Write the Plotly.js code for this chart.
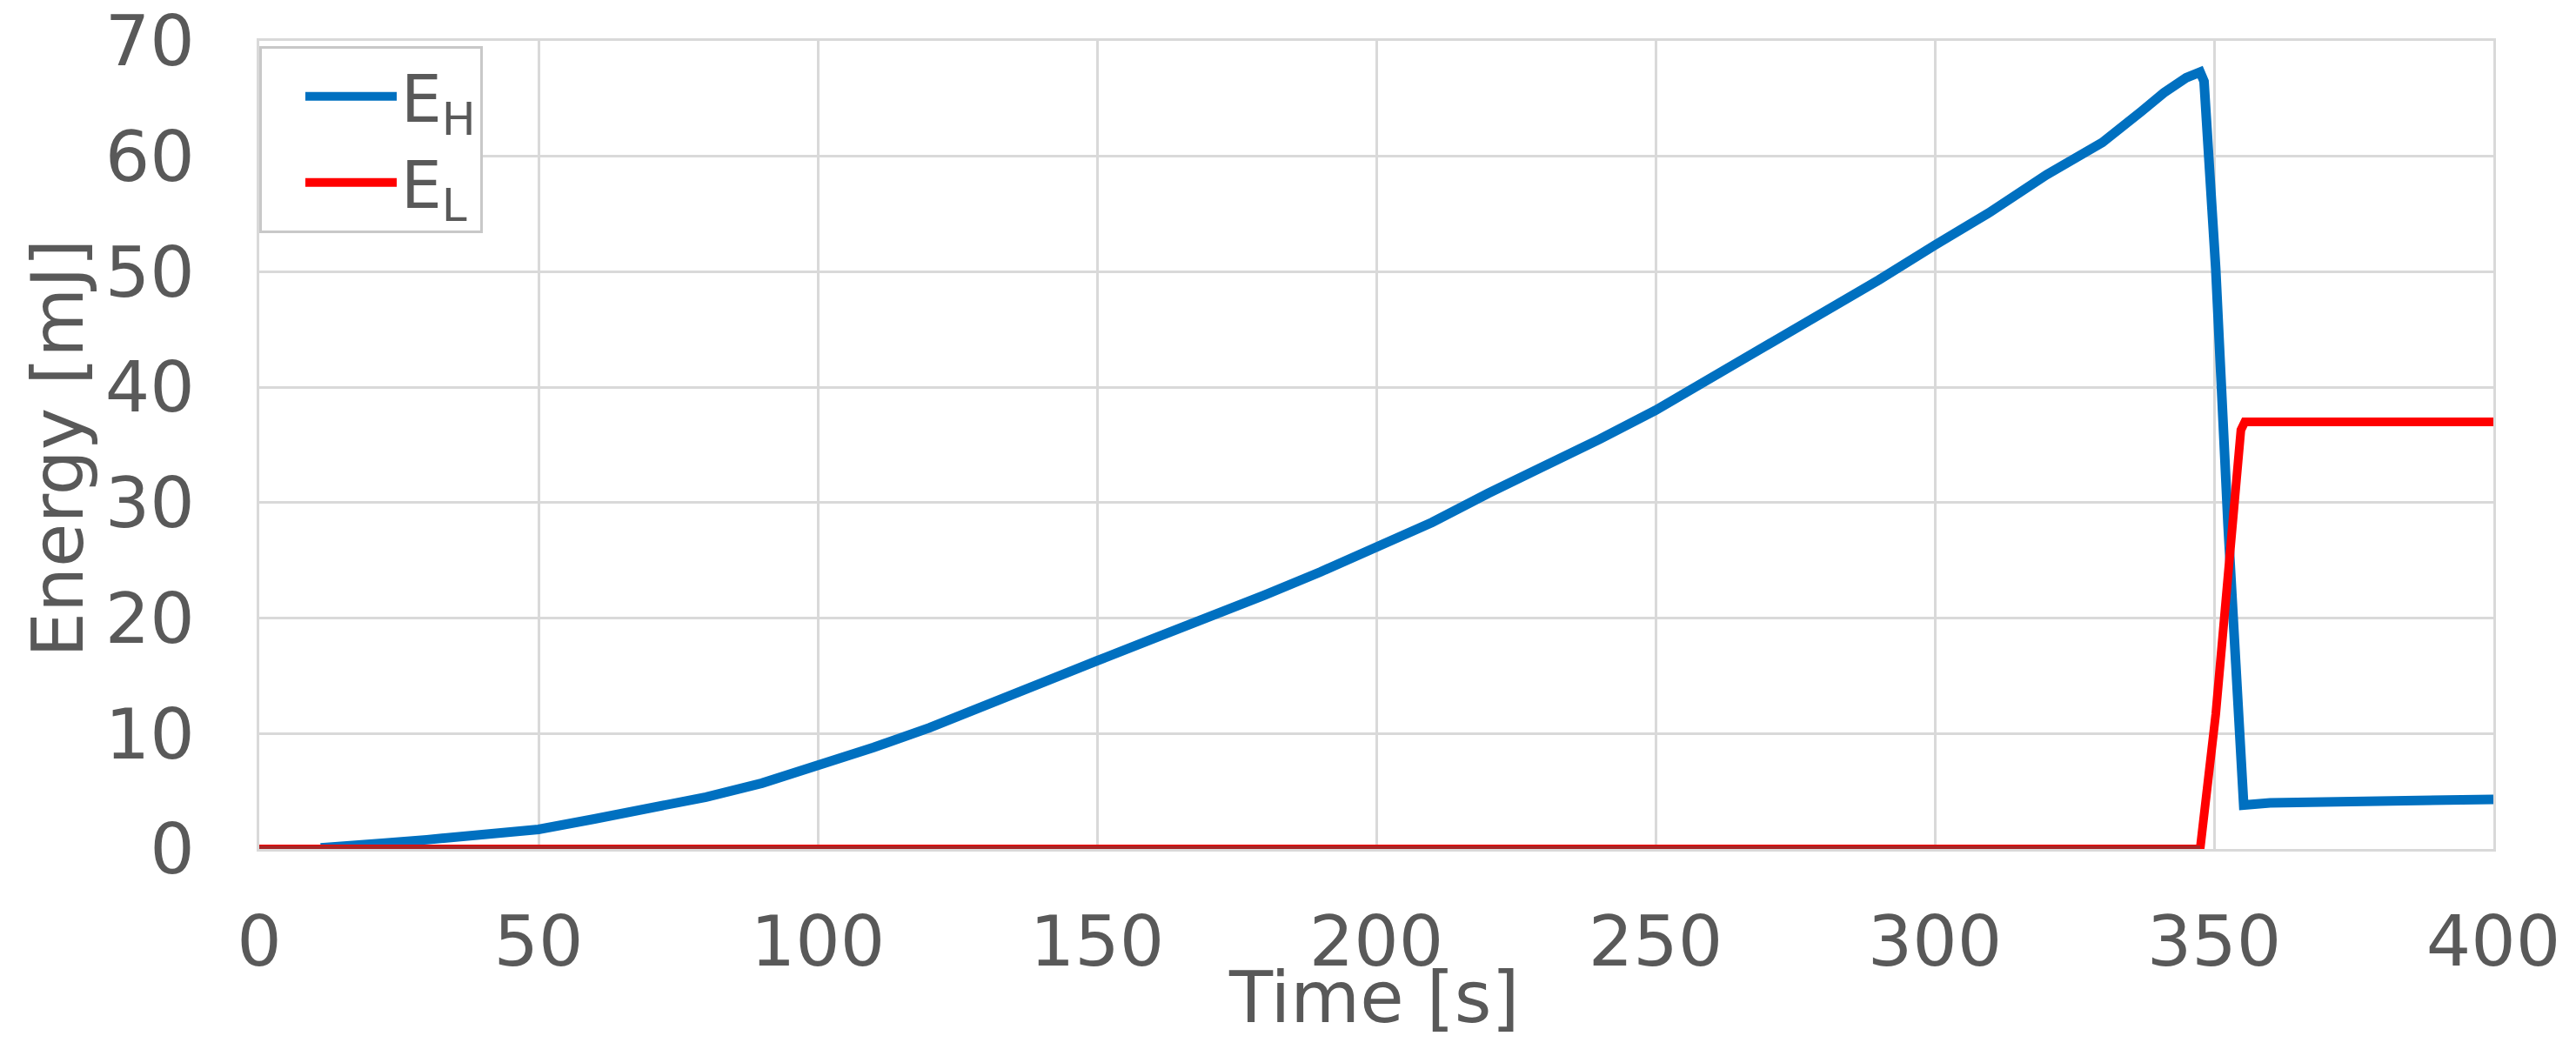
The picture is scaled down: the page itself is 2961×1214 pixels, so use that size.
<!DOCTYPE html>
<html>
<head>
<meta charset="utf-8">
<script src="https://cdn.plot.ly/plotly-3.0.1.min.js"></script>
<style>html,body{margin:0;padding:0;background:#fff;}#chart{width:2961px;height:1214px;}</style>
</head>
<body>
<div id="chart"></div>
<script>
// E_H (blue) series: time [s] and energy [mJ]
const timeH = [11, 15, 22, 30, 35, 40, 50, 60, 70, 75, 80, 90, 100, 110, 120, 130, 140, 150, 160, 170, 180, 190, 200, 210, 220, 230, 240, 250, 260, 270, 280, 290, 300, 310, 320, 330, 337, 341, 345, 347.5, 348.2, 350.3, 352.5, 354.6, 355.3, 360, 370, 380, 390, 400];
const energyH = [0.1, 0.2, 0.5, 0.8, 1.0, 1.2, 1.7, 2.6, 3.5, 4.0, 4.5, 5.7, 7.2, 8.8, 10.5, 12.5, 14.5, 16.3, 18.2, 20.0, 22.0, 24.0, 26.1, 28.3, 30.8, 33.1, 35.5, 38.0, 40.8, 43.7, 46.5, 49.3, 52.3, 55.2, 58.4, 61.2, 63.9, 65.5, 66.8, 67.3, 66.5, 50.2, 28.0, 9.4, 3.8, 4.0, 4.1, 4.1, 4.2, 4.3];
// E_L (red) series
const timeL = [0, 347.5, 350.3, 352.5, 354.2, 354.8, 355.5, 400];
const energyL = [0, 0, 11.7, 24.0, 32.7, 36.3, 37.0, 37.0];
// axis ticks
const xTicks = [0, 50, 100, 150, 200, 250, 300, 350, 400];
const yTicks = [0, 10, 20, 30, 40, 50, 60, 70];

const FONT = "DejaVu Sans, Verdana, sans-serif";
const GRAY = "#595959";
const GRID = "#d9d9d9";

const traces = [
  {x: timeH, y: energyH, type: "scatter", mode: "lines", name: "E<sub>H</sub>",
   line: {color: "#0070C0", width: 11}},
  {x: timeL, y: energyL, type: "scatter", mode: "lines", name: "E<sub>L</sub>",
   line: {color: "#FF0000", width: 10}},
  // the flat zero part of E_L looks darker in the reference
  {x: timeL.slice(0, 2), y: energyL.slice(0, 2), type: "scatter", mode: "lines",
   showlegend: false, line: {color: "#a82626", width: 8}}
];

const layout = {
  width: 2961, height: 1214,
  margin: {l: 298, r: 95, t: 47, b: 238},
  paper_bgcolor: "#fff", plot_bgcolor: "#fff",
  font: {family: FONT, color: GRAY, size: 81},
  showlegend: true,
  legend: {
    x: 0, y: 0.9935, xanchor: "left", yanchor: "top",
    bgcolor: "#fff", bordercolor: "#c8c8c8", borderwidth: 3,
    font: {family: FONT, size: 74, color: GRAY},
    itemwidth: 105, tracegroupgap: 0, indentation: 45,
    entrywidth: 308, entrywidthmode: "pixels"
  },
  xaxis: {
    range: [0, 400], tickvals: xTicks, ticktext: xTicks.map(String),
    showgrid: true, gridcolor: GRID, gridwidth: 3,
    zeroline: false, showline: true, linecolor: GRID, linewidth: 3, mirror: true,
    ticks: "", ticklabelstandoff: 34,
    tickfont: {family: FONT, size: 81, color: GRAY},
    automargin: false
  },
  yaxis: {
    range: [0, 70], tickvals: yTicks, ticktext: yTicks.map(String),
    showgrid: true, gridcolor: GRID, gridwidth: 3,
    zeroline: false, showline: true, linecolor: GRID, linewidth: 3, mirror: true,
    ticks: "", ticklabelstandoff: 55,
    tickfont: {family: FONT, size: 81, color: GRAY},
    automargin: false
  },
  annotations: [
    {text: "Time [s]", xref: "paper", yref: "paper", x: 0.4988, y: -0.1836,
     xanchor: "center", yanchor: "middle", showarrow: false,
     font: {family: FONT, size: 82, color: GRAY}},
    {text: "Energy [mJ]", xref: "paper", yref: "paper", x: -0.0901, y: 0.496,
     xanchor: "center", yanchor: "middle", textangle: -90, showarrow: false,
     font: {family: FONT, size: 82, color: GRAY}}
  ]
};

Plotly.newPlot("chart", traces, layout, {staticPlot: true, displayModeBar: false});
</script>
</body>
</html>
